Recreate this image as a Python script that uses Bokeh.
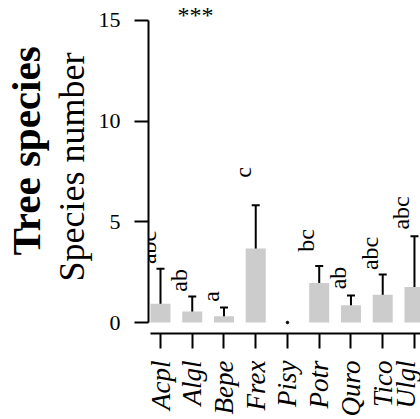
import math
from bokeh.plotting import figure
from bokeh.models import FixedTicker, Range1d, Title, ColumnDataSource, Whisker, TeeHead
from bokeh.core.properties import value
from bokeh.embed import file_html
from bokeh.resources import INLINE

# ---- data ----
species = ["Acpl", "Algl", "Bepe", "Frex", "Pisy", "Potr", "Quro", "Tico", "Ulgl"]
means = [0.93, 0.55, 0.31, 3.67, 0.0, 1.96, 0.86, 1.38, 1.76]
err_upper = [2.67, 1.29, 0.75, 5.82, 0.0, 2.80, 1.34, 2.39, 4.28]
err_lower = [0.35, 0.26, 0.15, 2.30, 0.0, 1.39, 0.56, 0.80, 0.80]
letters = ["abc", "ab", "a", "c", "", "bc", "ab", "abc", "abc"]
letter_y = [3.73, 2.09, 1.29, 7.45, 0.0, 4.07, 2.21, 3.43, 5.44]
y_ticks = [0, 5, 10, 15]
signif_text = "***"
signif_x = 2.1
signif_y = 15.25

FONT = "Liberation Serif"
xs = [i + 1 for i in range(len(species))]

p = figure(width=420, height=419,
           x_range=Range1d(0.622, 9.19), y_range=Range1d(-0.546, 15.99),
           output_backend="svg", toolbar_location=None,
           min_border_left=148, min_border_right=0, min_border_top=0, min_border_bottom=86)
p.outline_line_color = None
p.grid.visible = False
p.background_fill_color = "white"
p.border_fill_color = "white"

# bars
src = ColumnDataSource(dict(x=xs, top=means))
p.vbar(x="x", top="top", width=0.63, source=src, fill_color="#cccccc", line_color=None)

# error bars
eb = [(x, lo, up) for x, lo, up in zip(xs, err_lower, err_upper) if up > lo]
dots = [(x, lo) for x, lo, up in zip(xs, err_lower, err_upper) if up <= lo]
esrc = ColumnDataSource(dict(x=[e[0] for e in eb], lower=[e[1] for e in eb], upper=[e[2] for e in eb]))
w = Whisker(source=esrc, base="x", upper="upper", lower="lower", dimension="height",
            line_width=2, line_color="black",
            upper_head=TeeHead(size=8, line_width=2, line_color="black"),
            lower_head=TeeHead(size=8, line_width=2, line_color="black"))
p.add_layout(w)
if dots:
    p.scatter(x=[d[0] for d in dots], y=[d[1] for d in dots], size=2.5, color="black")

# letters
lt = [(x, y, t) for x, y, t in zip(xs, letter_y, letters) if t]
lsrc = ColumnDataSource(dict(x=[a[0] for a in lt], y=[a[1] for a in lt], t=[a[2] for a in lt]))
p.text(x="x", y="y", text="t", source=lsrc, angle=math.pi / 2, text_align="center",
       text_baseline="bottom", text_font=value(FONT), text_font_size="24px", text_color="black")

# significance
p.text(x=[signif_x], y=[signif_y], text=[signif_text], text_align="center", text_baseline="middle",
       text_font=value(FONT), text_font_size="24px", text_color="black")

# x axis
xa = p.xaxis[0]
xa.ticker = FixedTicker(ticks=xs)
xa.major_label_overrides = {x: s for x, s in zip(xs, species)}
xa.major_label_orientation = math.pi / 2
xa.major_label_text_font = FONT
xa.major_label_text_font_style = "italic"
xa.major_label_text_font_size = "27px"
xa.major_label_text_color = "black"
xa.major_label_standoff = 12
xa.major_tick_out = 15
xa.major_tick_in = 0
xa.major_tick_line_width = 2
xa.axis_line_width = 2
xa.minor_tick_line_color = None
xa.bounds = (0.685, 9.19)

# y axis
ya = p.yaxis[0]
ya.ticker = FixedTicker(ticks=y_ticks)
ya.bounds = (0, 15)
ya.major_label_text_font = FONT
ya.major_label_text_font_size = "22px"
ya.major_label_text_color = "black"
ya.major_label_standoff = 14
ya.major_tick_out = 14
ya.major_tick_in = 0
ya.major_tick_line_width = 2
ya.axis_line_width = 2
ya.minor_tick_line_color = None
ya.axis_label = "Species number"
ya.axis_label_text_font = FONT
ya.axis_label_text_font_style = "normal"
ya.axis_label_text_font_size = "36px"
ya.axis_label_text_color = "black"
ya.axis_label_standoff = 4

t = Title(text="Tree species", text_font=FONT, text_font_size="41px", text_font_style="bold",
          text_color="black", align="left", offset=78, standoff=0)
p.add_layout(t, "left")

open("out.html", "w").write(file_html(p, INLINE))
